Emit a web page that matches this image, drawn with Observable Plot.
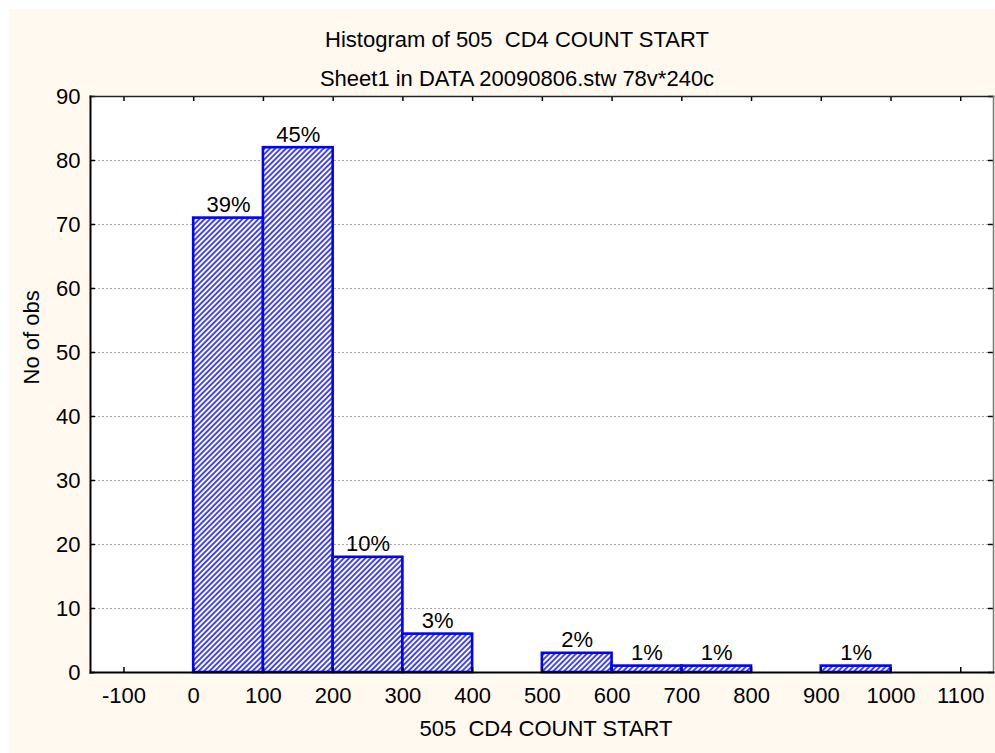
<!DOCTYPE html>
<html><head><meta charset="utf-8">
<script src="https://cdn.jsdelivr.net/npm/d3@7"></script>
<script src="https://cdn.jsdelivr.net/npm/@observablehq/plot@0.6"></script>
<style>
html,body{margin:0;padding:0;background:#ffffff;}
#wrap{position:absolute;left:9px;top:9px;width:986px;height:744px;background:#FFF9EF;}
#wrap svg{display:block;}
</style></head><body><div id="wrap"></div>
<script>
// ---- data ----
const binStart = [0, 100, 200, 300, 500, 600, 700, 900];
const binEnd   = [100, 200, 300, 400, 600, 700, 800, 1000];
const counts   = [71, 82, 18, 6, 3, 1, 1, 1];
const pctLabels = ["39%", "45%", "10%", "3%", "2%", "1%", "1%", "1%"];
const xTicks = [-100, 0, 100, 200, 300, 400, 500, 600, 700, 800, 900, 1000, 1100];
const yTicks = [0, 10, 20, 30, 40, 50, 60, 70, 80, 90];
const gridTicks = [10, 20, 30, 40, 50, 60, 70, 80];
const title = "Histogram of 505  CD4 COUNT START";
const subtitle = "Sheet1 in DATA 20090806.stw 78v*240c";
const xLabel = "505  CD4 COUNT START";
const yLabel = "No of obs";

const bars = binStart.map((s, i) => ({x1: s, x2: binEnd[i], y: counts[i], label: pctLabels[i]}));

const W = 986, H = 744, ML = 81, MR = 2, MT = 87, MB = 81;
const innerW = W - ML - MR, innerH = H - MT - MB;
const FONT = "'Liberation Sans', Arial, sans-serif";
const FS = 22;
const plainNum = d => String(d);

const chart = Plot.plot({
  width: W, height: H,
  marginLeft: ML, marginRight: MR, marginTop: MT, marginBottom: MB,
  style: {background: "transparent", fontFamily: FONT, fontSize: FS + "px", color: "#000", overflow: "visible"},
  x: {domain: [-148, 1147]},
  y: {domain: [0, 90]},
  marks: [
    Plot.frame({fill: "white", stroke: null}),
    Plot.ruleY(gridTicks, {stroke: "#a8a8a8", strokeDasharray: "2,2", strokeWidth: 1}),
    Plot.rectY(bars, {x1: "x1", x2: "x2", y: "y", fill: "url(#hatch)", stroke: "#0000FF", strokeWidth: 2.6}),
    Plot.text(bars, {x: d => (d.x1 + d.x2) / 2, y: "y", text: "label", lineAnchor: "bottom", dy: -6, fontSize: FS, fill: "#000"}),
    // inward ticks on all four sides
    Plot.tickX(xTicks, {x: d => d, insetTop: innerH - 5, stroke: "#000", strokeWidth: 1.5}),
    Plot.tickX(xTicks, {x: d => d, insetBottom: innerH - 5, stroke: "#000", strokeWidth: 1.5}),
    Plot.tickY(yTicks, {y: d => d, insetRight: innerW - 5, stroke: "#000", strokeWidth: 1.5}),
    Plot.tickY(yTicks, {y: d => d, insetLeft: innerW - 5, stroke: "#000", strokeWidth: 1.5}),
    // frame
    Plot.frame({anchor: "top", stroke: "#222", strokeWidth: 1.5}),
    Plot.frame({anchor: "right", stroke: "#777", strokeWidth: 1.5}),
    Plot.frame({anchor: "left", stroke: "#000", strokeWidth: 2}),
    Plot.frame({anchor: "bottom", stroke: "#000", strokeWidth: 2}),
    // axes (labels only)
    Plot.axisX(xTicks, {tickSize: 0, tickPadding: 15, fontSize: FS, label: null, tickFormat: plainNum}),
    Plot.axisY(yTicks, {tickSize: 0, tickPadding: 10, fontSize: FS, label: null, tickFormat: plainNum}),
    // axis titles and chart titles
    Plot.text([xLabel], {frameAnchor: "bottom", dx: 4, dy: 63, fontSize: FS, text: d => d}),
    Plot.text([yLabel], {frameAnchor: "left", dx: -59, rotate: -90, fontSize: FS, text: d => d}),
    Plot.text([title], {frameAnchor: "top", dx: -25, dy: -65, fontSize: FS, text: d => d}),
    Plot.text([subtitle], {frameAnchor: "top", dx: -25, dy: -26, fontSize: FS, text: d => d})
  ]
});

// hatch pattern definition
const svg = d3.select(chart);
const defs = svg.insert("defs", ":first-child");
const pat = defs.append("pattern")
  .attr("id", "hatch")
  .attr("patternUnits", "userSpaceOnUse")
  .attr("width", 3.8).attr("height", 3.8)
  .attr("patternTransform", "rotate(45)");
pat.append("rect").attr("width", 3.8).attr("height", 3.8).attr("fill", "#ffffff");
pat.append("line").attr("x1", 1.9).attr("y1", 0).attr("x2", 1.9).attr("y2", 3.8)
  .attr("stroke", "#3535ff").attr("stroke-width", 1.8);

document.getElementById("wrap").appendChild(chart);
</script>
</body></html>
